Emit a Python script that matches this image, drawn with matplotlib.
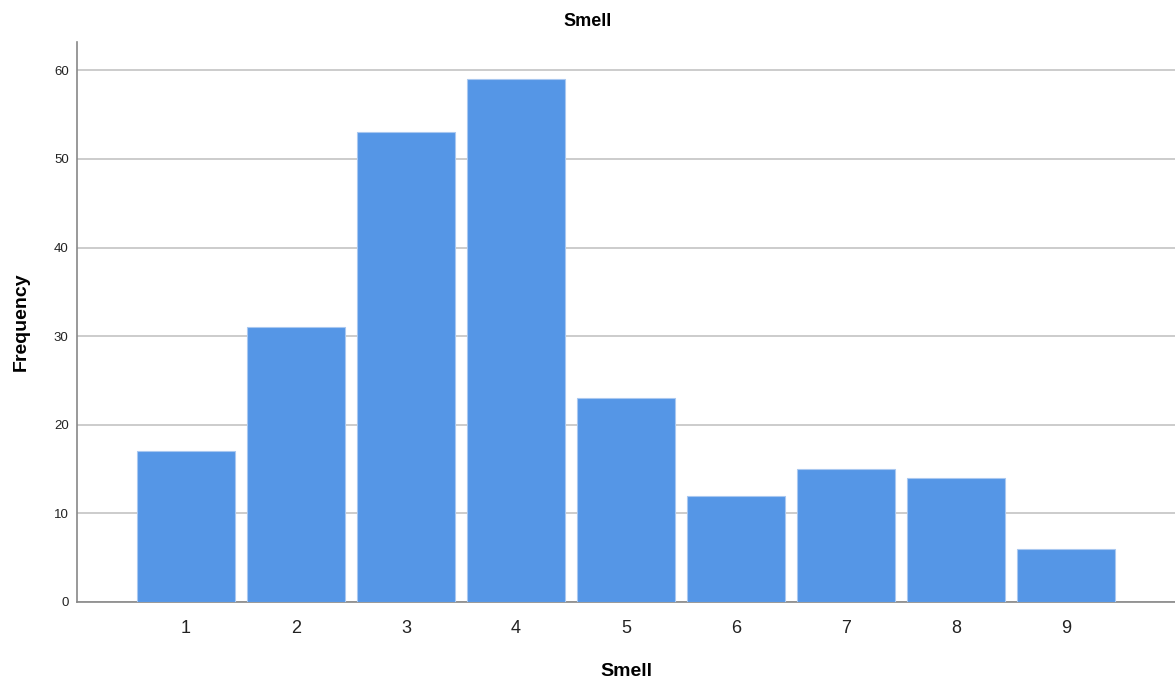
import matplotlib
matplotlib.use('Agg')
import matplotlib.pyplot as plt

plt.rcParams['font.family'] = ['Liberation Sans', 'DejaVu Sans']

categories = [1, 2, 3, 4, 5, 6, 7, 8, 9]
counts = [17, 31, 53, 59, 23, 12, 15, 14, 6]
yticks = [0, 10, 20, 30, 40, 50, 60]

fig = plt.figure(figsize=(11.75, 6.87), dpi=100)
ax = fig.add_axes([77 / 1175, 85 / 687, 1 - 77 / 1175, 560 / 687])

ax.bar(categories, counts, width=0.89, color='#5596e6', edgecolor='#a9c8f0',
       linewidth=0.8, zorder=3)

ax.set_xlim(0.01, 9.99)
ax.set_ylim(0, 63.2)
ax.set_yticks(yticks)
ax.set_xticks(categories)
ax.set_xticklabels([str(c) for c in categories], fontsize=13, color='#222222')
ax.set_yticklabels([str(t) for t in yticks], fontsize=9.5, color='#222222')
ax.tick_params(length=0, pad=6)
ax.tick_params(axis='x', pad=13)

ax.grid(axis='y', color='#c8c8c8', linewidth=1.3, zorder=0)
for s in ['top', 'right']:
    ax.spines[s].set_visible(False)
for s in ['left', 'bottom']:
    ax.spines[s].set_color('#888888')
    ax.spines[s].set_linewidth(1.2)

fig.text(0.5, 1 - 22 / 687, 'Smell', fontsize=13, fontweight='bold',
         ha='center', va='center')
ax.set_xlabel('Smell', fontsize=14, fontweight='bold', labelpad=19)
ax.set_ylabel('Frequency', fontsize=14, fontweight='bold', labelpad=17)

fig.savefig('out.png', dpi=100, facecolor='white')
